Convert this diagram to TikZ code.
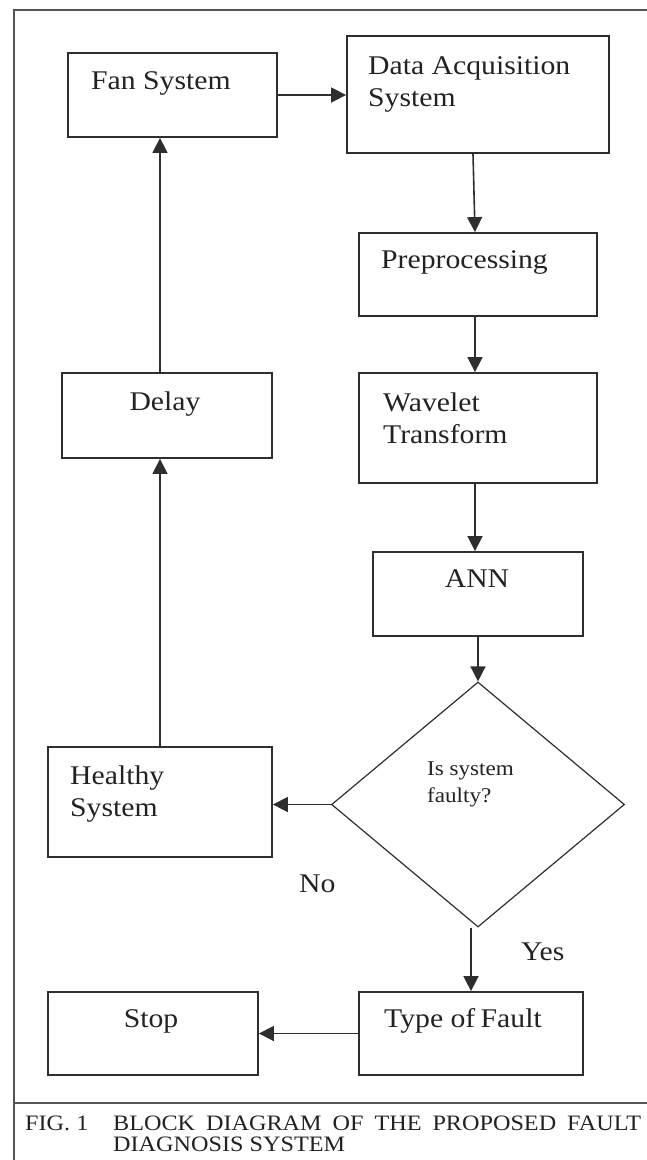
\documentclass[tikz,border=0pt]{standalone}
\usepackage{fontspec}
\setmainfont{Liberation Serif}[FakeStretch=1.1]
\usetikzlibrary{shapes.geometric,arrows.meta}
\definecolor{linec}{HTML}{2E2E2E}
\definecolor{textc}{HTML}{222222}
\definecolor{framec}{HTML}{555555}
\begin{document}
\begin{tikzpicture}[x=1pt,y=-1pt,
  box/.style={draw=linec,line width=1.8pt,rectangle,inner sep=0pt},
  dia/.style={draw=linec,line width=1.2pt,diamond,inner sep=0pt},
  lbl/.style={anchor=base west,inner sep=0pt,text=textc,align=left,
    font=\fontsize{27}{32}\selectfont},
  clbl/.style={anchor=base,inner sep=0pt,text=textc,
    font=\fontsize{27}{32}\selectfont},
  small/.style={anchor=base west,inner sep=0pt,text=textc,align=left,
    font=\fontsize{21}{27}\selectfont},
  captxt/.style={anchor=base west,inner sep=0pt,text=textc,
    font=\fontsize{22}{22}\selectfont},
  conn/.style={draw=linec,line width=1.6pt,-{Triangle[length=15pt,width=15pt]}},
  framel/.style={draw=framec,line width=1.8pt}]
\useasboundingbox (0,0) rectangle (647,1160);
% frame
\draw[framel] (647,10) -- (14,10) -- (14,1160);
\draw[framel] (14,1103) -- (647,1103);
% boxes
\node[box,minimum width=209pt,minimum height=84pt] (fan) at (172.5,95) {};
\node[box,minimum width=262pt,minimum height=117pt] (daq) at (478,94.5) {};
\node[box,minimum width=238pt,minimum height=83pt] (pre) at (478,274.5) {};
\node[box,minimum width=238pt,minimum height=110pt] (wav) at (478,428) {};
\node[box,minimum width=210pt,minimum height=84pt] (ann) at (478,594) {};
\node[dia,minimum width=293pt,minimum height=245pt] (dec) at (478,804.5) {};
\node[box,minimum width=224pt,minimum height=110pt] (hea) at (160,802) {};
\node[box,minimum width=210pt,minimum height=85pt] (del) at (167,415.5) {};
\node[box,minimum width=224pt,minimum height=83pt] (tof) at (471,1033.5) {};
\node[box,minimum width=210pt,minimum height=83pt] (stp) at (153,1033.5) {};
% texts (multi-line nodes: base is the last line)
\node[lbl] (tfan) at (91,89) {Fan System};
\node[lbl] (tdaq) at (368,106) {Data Acquisition\\System};
\node[lbl] (tpre) at (381,268) {Preprocessing};
\node[lbl] (twav) at (383,443) {Wavelet\\Transform};
\node[clbl] (tann) at (477,587) {ANN};
\node[clbl] (tdel) at (165,410) {Delay};
\node[lbl] (thea) at (70,816) {Healthy\\System};
\node[small] (tdec) at (427,802) {Is system\\faulty?};
\node[lbl] (tno) at (299,892) {No};
\node[lbl] (tyes) at (521,960) {Yes};
\node[lbl] (ttof) at (384,1027) {Type of\kern-2pt\ Fault};
\node[clbl] (tstp) at (151,1027) {Stop};
\node[captxt] (cfig) at (25,1130) {FIG. 1};
\node[captxt] (cl1) at (113,1130) {\makebox[528pt][s]{BLOCK DIAGRAM OF THE PROPOSED FAULT}};
\node[captxt] (cl2) at (113,1151) {DIAGNOSIS SYSTEM};
% connectors
\draw[conn] (fan.east) -- (daq.west |- fan.east);
\draw[conn] ([xshift=-5pt]daq.south) -- ([xshift=-3pt]pre.north);
\draw[conn] ([xshift=-3pt]pre.south) -- ([xshift=-3pt]wav.north);
\draw[conn] ([xshift=-3pt]wav.south) -- ([xshift=-3pt]ann.north);
\draw[conn] (ann.south) -- (dec.north);
\draw[conn] (dec.west) -- (hea.east |- dec.west);
\draw[conn] (hea.north) -- (hea.north |- del.south);
\draw[conn] (hea.north |- del.north) -- (hea.north |- fan.south);
\draw[conn] (tof.north |- dec.south) -- (tof.north);
\draw[conn] (tof.west) -- (stp.east);
\end{tikzpicture}
\end{document}
